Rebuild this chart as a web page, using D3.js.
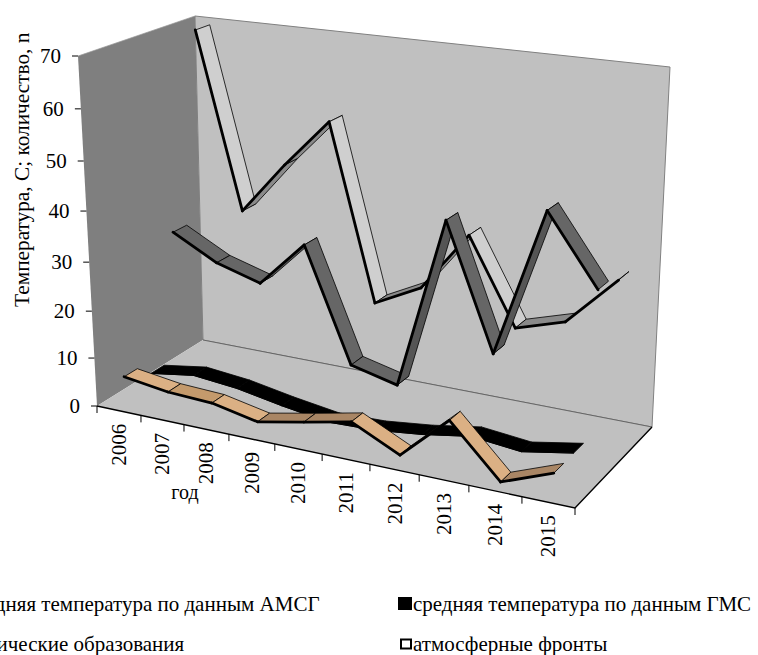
<!DOCTYPE html>
<html><head><meta charset="utf-8">
<script src="https://cdn.jsdelivr.net/npm/d3@7/dist/d3.min.js"></script>
<style>html,body{margin:0;padding:0;background:#fff;overflow:hidden}svg{display:block}text{font-family:"Liberation Serif",serif;fill:#000}</style>
</head><body><svg id="c" width="758" height="655"></svg>
<script>
const years=["2006","2007","2008","2009","2010","2011","2012","2013","2014","2015"];
const seriesNames=["средняя температура по данным АМСГ","средняя температура по данным ГМС","барические образования","атмосферные фронты"];
const amsg=[6.2,4.9,4.5,2.6,4.5,6.5,1.9,10.7,0.8,4.6];
const gms=[3.5,4.9,4,2.3,0.9,1.2,2.3,3.9,2.9,4.7];
const baric=[30.5,25.6,22.9,32.3,9,6.7,41.5,16.9,46.3,32.9];
const fronts=[69.2,33.4,44.2,54.2,18.7,23.5,35.6,18.6,21.6,31.5];
const yTicks=[0,10,20,30,40,50,60,70];
const seriesValues=[amsg,gms,baric,fronts];

const svg=d3.select("#c");
const C={fl0:[97,406],fl1:[78,56],fr0:[575,508],fr1:[582,122],bl0:[203,340],bl1:[195,16],br0:[652,427],br1:[670,67]};
const lerp=(a,b,t)=>[a[0]+(b[0]-a[0])*t,a[1]+(b[1]-a[1])*t];
function project(u,v,f){
  const fb=lerp(lerp(C.fl0,C.fr0,u),lerp(C.bl0,C.br0,u),v);
  const ft=lerp(lerp(C.fl1,C.fr1,u),lerp(C.bl1,C.br1,u),v);
  return lerp(fb,ft,f);
}
const xScale=d3.scaleLinear().domain(d3.range(years.length+1)).range([0,.092,.182,.276,.372,.471,.571,.674,.778,.889,1]);
const zScale=d3.scaleBand().domain(seriesNames).range([0,1]);
const yScale=d3.scaleLinear().domain(yTicks).range([0,.137,.271,.411,.557,.7,.849,1]);
const xc=i=>xScale(i+.5);
const zNear=s=>zScale(s)+zScale.bandwidth()*.25;
const zFar=s=>zScale(s)+zScale.bandwidth()*.75;
const poly=pts=>pts.map(p=>p.map(n=>n.toFixed(1)).join(",")).join(" ");

svg.append("polygon").attr("points",poly([C.fl1,C.bl1,C.bl0,C.fl0])).attr("fill","#7f7f7f");
svg.append("polygon").attr("points",poly([C.bl1,C.br1,C.br0,C.bl0])).attr("fill","#c0c0c0").attr("stroke","#808080").attr("stroke-width",1);
svg.append("polygon").attr("points",poly([C.fl0,C.bl0,C.br0,C.fr0])).attr("fill","#c0c0c0");
svg.append("line").attr("x1",C.bl0[0]).attr("y1",C.bl0[1]).attr("x2",C.br0[0]).attr("y2",C.br0[1]).attr("stroke","#666").attr("stroke-width",1);
svg.append("line").attr("x1",C.bl1[0]).attr("y1",C.bl1[1]).attr("x2",C.fl1[0]).attr("y2",C.fl1[1]).attr("stroke","#999").attr("stroke-width",.7);
svg.append("polyline").attr("points",poly([C.fl0,C.fr0,C.br0])).attr("fill","none").attr("stroke","#000").attr("stroke-width",1.4);

const yG=svg.append("g");
yTicks.forEach(t=>{
  const p=project(0,0,yScale(t));
  yG.append("line").attr("x1",p[0]-6).attr("x2",p[0]).attr("y1",p[1]).attr("y2",p[1]).attr("stroke","#000").attr("stroke-width",1);
  yG.append("text").attr("x",p[0]-17).attr("y",p[1]+7).attr("text-anchor","end").attr("font-size",21).text(t);
});
const xG=svg.append("g");
d3.range(years.length+1).forEach(i=>{
  const p=project(xScale(i),0,0);
  xG.append("line").attr("x1",p[0]).attr("x2",p[0]).attr("y1",p[1]).attr("y2",p[1]+7).attr("stroke","#000").attr("stroke-width",1);
});
years.forEach((y,i)=>{
  const p=project(xc(i),0,0);
  xG.append("text").attr("transform",`translate(${p[0]+7},${p[1]+13}) rotate(-90)`).attr("text-anchor","end").attr("font-size",21).text(y);
});
svg.append("text").attr("x",185).attr("y",499).attr("text-anchor","middle").attr("font-size",20).text("год");
svg.append("text").attr("transform","translate(29,307) rotate(-90)").attr("font-size",21.3).text("Температура, С; количество, n");

const shades=[
 {up:"#a98665",flat:"#c49a6c",down:"#dbb084"},
 {up:"#000",flat:"#000",down:"#000"},
 {up:"#555",flat:"#666",down:"#666"},
 {up:"#8a8a8a",flat:"#c4c4c4",down:"#cfcfcf"}];
[3,2,1,0].forEach(si=>{
  const name=seriesNames[si],vals=seriesValues[si],g=svg.append("g");
  d3.pairs(years.map((y,i)=>({i,val:vals[i]}))).forEach(([a,b])=>{
    const na=project(xc(a.i),zNear(name),yScale(a.val)),nb=project(xc(b.i),zNear(name),yScale(b.val));
    const fa=project(xc(a.i),zFar(name),yScale(a.val)),fb=project(xc(b.i),zFar(name),yScale(b.val));
    const d=b.val-a.val;
    const col=d>1.5?shades[si].up:d<-.5?shades[si].down:shades[si].flat;
    g.append("polygon").attr("points",poly([na,nb,fb,fa])).attr("fill",col).attr("stroke","#000").attr("stroke-width",.8).attr("stroke-linejoin","round");
    g.append("line").attr("x1",na[0]).attr("y1",na[1]).attr("x2",nb[0]).attr("y2",nb[1]).attr("stroke","#000").attr("stroke-width",si==1?1:2.8).attr("stroke-linecap","round");
  });
});
const legend=[{x:-48,y:611,fill:"#d9ae80",i:0},{x:399,y:611,fill:"#000",i:1},{x:-48,y:650.5,fill:"#666",i:2},{x:399,y:650.5,fill:"#fff",i:3}];
legend.forEach(l=>{
  const black=l.i===1;
  svg.append("rect").attr("x",l.x+(black?0:2)).attr("y",l.y-(black?13:11)).attr("width",black?12:10).attr("height",black?11:9).attr("fill",l.fill).attr("stroke","#000").attr("stroke-width",2);
  svg.append("text").attr("x",l.x+14).attr("y",l.y).attr("font-size",21).text(seriesNames[l.i]);
});
</script></body></html>
